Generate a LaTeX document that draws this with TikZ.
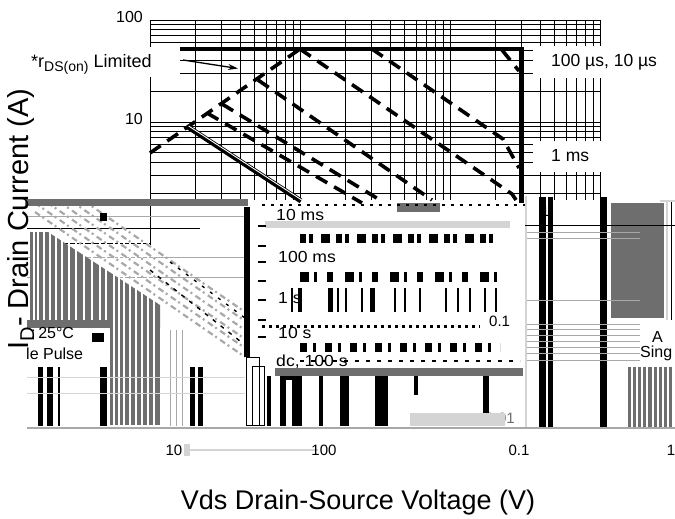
\documentclass[tikz,border=0pt]{standalone}
\usepackage{fontspec}
\setmainfont{Liberation Sans}
\usetikzlibrary{arrows.meta}
\definecolor{dg}{HTML}{6E6E6E}
\definecolor{lg}{HTML}{D4D4D4}
\definecolor{mg}{HTML}{A8A8A8}
\begin{document}
\begin{tikzpicture}[x=1pt,y=-1pt,
  gridline/.style={line width=0.9pt},
  limitline/.style={line width=4.5pt, line join=miter},
  soaline/.style={line width=3.6pt, dash pattern=on 13pt off 8pt},
  lbl/.style={inner sep=0pt, font=\fontsize{17.5}{20}\selectfont},
  tick/.style={inner sep=0pt, font=\fontsize{16}{19}\selectfont},
  gtxt/.style={inner sep=0pt, font=\fontsize{16}{19}\selectfont},
  smalltxt/.style={inner sep=0pt, font=\fontsize{15}{18}\selectfont},
  titletxt/.style={inner sep=0pt, font=\fontsize{27}{30}\selectfont},
  bar/.style={fill=black, draw=none},
  stripe/.style={white, line width=1.4pt},
]
\useasboundingbox (0,0) rectangle (675,519);

% ---------- grid (top, clean part) ----------
\foreach \d in {0,1,2}{
  \foreach \k in {1,...,9}{
    \pgfmathsetmacro\xx{150+150*(\d+log10(\k))}
    \draw[gridline] (\xx,20) -- (\xx,200);
  }
}
\draw[gridline] (600,20) -- (600,200);
\draw[gridline] (150,20) -- (600,20);
\foreach \k in {1,...,9}{
  \pgfmathsetmacro\yy{20+102*(1-log10(\k))}
  \draw[gridline] (150,\yy) -- (600,\yy);
}
\foreach \k in {2,...,9}{
  \pgfmathsetmacro\yy{20+102*(2-log10(\k))}
  \draw[gridline] (150,\yy) -- (600,\yy);
}

% label boxes that blank the grid
\fill[white] (22,47.5) rectangle (180,77.5);
\fill[white] (533,46) rectangle (675,78);
\fill[white] (533,141) rectangle (675,172);

% ---------- SOA curves ----------
\draw[limitline] (180,49) -- (521.5,49) -- (521.5,203);
\draw[soaline] (150,153) -- (300,49);
\draw[soaline] (372,49) -- (503,139) -- (519,168);
\draw[soaline] (502,50) -- (519,71);
\draw[soaline] (300,49) -- (512,194) -- (516,200);
\draw[soaline] (258,80) -- (432,200);
\draw[soaline] (222,104) -- (380,200);
\draw[soaline] (207,113) -- (362,203);
\draw[line width=5pt] (188,127) -- (301,201);
\draw[white, line width=0.9pt] (188.7,126) -- (301.7,200);

% ---------- labels top ----------
\node[tick, anchor=east] (t100) at (143,17) {100};
\node[tick, anchor=east] (t10) at (143,119) {10};
\node[lbl, anchor=base west, font=\fontsize{18}{20}\selectfont] (rds) at (31,67)
  {*r\raisebox{-4.5pt}{\fontsize{14}{16}\selectfont DS(on)} Limited};
\coordinate (arrowtail) at (183,60);
\coordinate (arrowtip) at (238,68.5);
\draw[line width=1.3pt, -{Stealth[length=10pt,width=6pt]}] (arrowtail) -- (arrowtip);
\node[lbl, anchor=west] (l100us) at (551,62) {100 µs, 10 µs};
\node[lbl, anchor=west] (l1ms) at (551,156) {1 ms};

% ---------- glitched lower part ----------
% top band
\fill[dg] (25,199) rectangle (248,206);
\draw[black, line width=0.9pt] (27,228) -- (200,228);
\draw[black, line width=0.9pt] (33,243) -- (150,243);
\draw[gridline] (150,206) -- (150,245);
\foreach \y in {216,257,277} \draw[mg, line width=1pt] (27,\y) -- (245,\y);
% striped grey field on the left
\fill[dg] (30,232) -- (48,232) -- (160,305) -- (160,328) -- (30,328) -- cycle;
\fill[dg] (110,328) rectangle (160,425);
\foreach \x in {34,38,44,50,56,62,69,76,84,92,100,106,114,119,124,130,136,142,148,154}
  \draw[stripe] (\x,232) -- (\x,425);
\fill[white] (27,328) rectangle (109,367);
\fill[dg] (27,320) rectangle (112,328);
% diagonal speckled band
\begin{scope}
  \clip (25,206) rectangle (250,370);
  \foreach \dy in {0,-9,-18,-27,-36,-45}
    \draw[mg, line width=2.2pt, dash pattern=on 6pt off 3pt on 2pt off 4pt] (35,212+\dy) -- (245,357+\dy);
  \draw[black, line width=1.4pt, dash pattern=on 4pt off 6pt] (150,270) -- (245,345);
  \draw[black, line width=1.4pt, dash pattern=on 3pt off 7pt] (170,262) -- (245,318);
\end{scope}
\fill[black] (100,213) rectangle (107,221);
\fill[black] (92,333) rectangle (104,342);
% left bottom bars
\fill[bar] (38,367) rectangle (43,426);
\fill[bar] (47,367) rectangle (53,426);
\fill[bar] (58,367) rectangle (60,426);
\fill[bar] (100,367) rectangle (107,426);
\fill[bar] (190,367) rectangle (195,426);
\fill[bar] (198,367) rectangle (203,426);
\foreach \x in {170,176,182} \draw[mg, line width=1pt] (\x,330) -- (\x,426);
\draw[lg, line width=1pt] (27,377) -- (245,377);
\draw[lg, line width=1pt] (27,393) -- (245,393);
\node[gtxt, anchor=west] (tc) at (31,333) {:\,25°C};
\node[gtxt, anchor=west] (sp) at (26,354) {le Pulse};

% middle block
\fill[bar] (244,207) rectangle (250,357);
\fill[lg] (265,221) rectangle (510,228);
\fill[dg] (275,368) rectangle (523,376);
\fill[dg] (397,203) rectangle (440,212);
\draw[black, line width=2pt, dash pattern=on 3pt off 6pt] (262,205) -- (525,205);
\draw[black, line width=9pt, dash pattern=on 6pt off 3pt on 4pt off 8pt on 9pt off 6pt] (300,238) -- (500,238);
\draw[black, line width=10pt, dash pattern=on 9pt off 5pt on 3pt off 10pt on 6pt off 12pt] (300,277) -- (500,277);
\foreach \x/\w in {292/2,300/4,330/5,338/2,346/2,362/2,372/5,395/2,405/2,420/2,446/2,458/2,470/2,485/2,496/2}
  \draw[black, line width=\w pt] (\x,288) -- (\x,312);
\draw[black, line width=3pt, dash pattern=on 3pt off 4pt] (262,326) -- (480,326);
\draw[black, line width=9pt, dash pattern=on 7pt off 6pt on 3pt off 9pt] (300,347) -- (500,347);
\draw[black, line width=2pt, dash pattern=on 4pt off 7pt] (300,361) -- (520,361);
\foreach \y in {226,246,262,281,300,320,337} \draw[black, line width=1.5pt] (258,\y) -- (266,\y);
\node[gtxt, anchor=west, xscale=1.1] (l10ms) at (276,215) {10 ms};
\node[gtxt, anchor=west, xscale=1.1] (l100ms) at (278,257) {100 ms};
\node[gtxt, anchor=west, xscale=1.1] (l1s) at (278,298) {1 s};
\node[gtxt, anchor=west, xscale=1.1] (l10s) at (278,333) {10 s};
\node[gtxt, anchor=west, xscale=1.1] (ldc) at (276,362) {dc, 100 s};
\node[smalltxt, anchor=west] (g01) at (489,321) {0.1};
\node[smalltxt, anchor=east, text=dg] (g001) at (515,418) {0.01};
\node[smalltxt, anchor=west] (g1) at (541,211) {1};
% bottom bars middle
\draw[black, line width=0.8pt] (246,357) rectangle (259,425);
\draw[black, line width=0.8pt] (252,366) rectangle (264,425);
\fill[bar] (267,376) rectangle (271,426);
\fill[bar] (280,376) rectangle (302,426);
\fill[white] (286,380) rectangle (292,426);
\fill[bar] (319,376) rectangle (323,426);
\fill[bar] (340,376) rectangle (349,426);
\fill[bar] (375,376) rectangle (388,426);
\fill[bar] (414,376) rectangle (418,395);
\fill[bar] (483,376) rectangle (489,426);
\fill[lg] (410,413) rectangle (505,426);

% right block
\draw[lg, line width=1.5pt] (526,196) -- (526,428);
\fill[bar] (539,197) rectangle (546,428);
\fill[bar] (548,197) rectangle (553,428);
\fill[bar] (600,197) rectangle (607,428);
\fill[dg] (611,203) rectangle (664,318);
\draw[lg, line width=2pt] (667,200) -- (667,320);
\draw[black, line width=1pt] (671,200) -- (671,320);
\draw[lg, line width=2pt] (660,201) -- (675,201);
\draw[black, line width=1pt] (525,225) -- (675,225);
\foreach \y in {232,238,300,324,329,335,341,347,353,360}
  \draw[mg, line width=1pt] (527,\y) -- (640,\y);
\fill[white] (648,325) rectangle (675,362);
\node[gtxt, anchor=west] (ga) at (652,337) {A};
\node[gtxt, anchor=west] (gsing) at (640,353) {Sing};
\fill[dg] (628,367) rectangle (672,428);
\foreach \x in {632,637,642,647,653,658,663,668}
  \draw[stripe] (\x,367) -- (\x,428);

% bottom axis line and labels
\draw[mg, line width=1.2pt] (27,428) -- (675,428);
\fill[lg] (184,444) rectangle (190,456);
\draw[lg, line width=1.5pt] (190,450) -- (318,450);
\node[smalltxt] (b10) at (174,450) {10};
\node[smalltxt] (b100) at (324,450) {100};
\node[smalltxt] (b01) at (519,450) {0.1};
\node[smalltxt] (b1) at (671,450) {1};

% axis titles
\node[titletxt, anchor=base] (xtitle) at (358,509) {Vds Drain-Source Voltage (V)};
\node[inner sep=0pt, font=\fontsize{29}{32}\selectfont, rotate=90, anchor=base] (ytitle) at (28,219)
  {I\raisebox{-6pt}{\fontsize{20}{22}\selectfont D}- Drain Current (A)};
\end{tikzpicture}
\end{document}
